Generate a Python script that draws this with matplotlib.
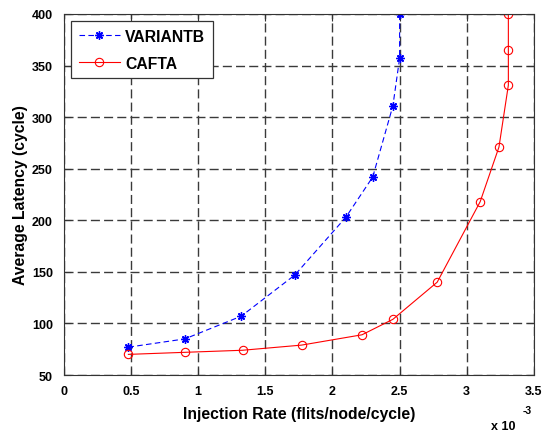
import matplotlib.pyplot as plt
import numpy as np

plt.rcParams['font.family'] = ['Liberation Sans', 'DejaVu Sans']
plt.rcParams['font.weight'] = 'bold'

# injection rate in units of 1e-3 flits/node/cycle
variantb_x = [0.48, 0.90, 1.32, 1.72, 2.10, 2.30, 2.45, 2.50, 2.50]
variantb_y = [77, 85, 107, 147, 203, 242, 311, 357, 400]

cafta_x = [0.48, 0.90, 1.33, 1.77, 2.22, 2.45, 2.78, 3.10, 3.24, 3.31, 3.31, 3.31]
cafta_y = [70, 72, 74, 79, 89, 104, 140, 218, 271, 331, 365, 400]

fig = plt.figure(figsize=(5.42, 4.35), dpi=100)
ax = fig.add_axes([0.118, 0.1356, 0.867, 0.830])

ax.plot(variantb_x, variantb_y, '--', color='blue', marker=(8, 2, 0), markersize=6,
        markeredgewidth=1.0, linewidth=0.8, dashes=(5, 3), label='VARIANTB')
ax.plot(cafta_x, cafta_y, '-', color='red', marker='o', markersize=6,
        markerfacecolor='none', markeredgewidth=0.8, linewidth=0.8, label='CAFTA')

ax.set_xlim(0, 3.5)
ax.set_ylim(50, 400)
ax.set_xticks(np.arange(0, 3.51, 0.5))
ax.set_xticklabels(['0', '0.5', '1', '1.5', '2', '2.5', '3', '3.5'])
ax.set_yticks(np.arange(50, 401, 50))
ax.tick_params(direction='in', top=True, right=True, labelsize=9, length=5,
               color='#333333')
ax.tick_params(axis='y', pad=8)
ax.tick_params(axis='x', pad=7)
for s in ax.spines.values():
    s.set_color('#333333')
ax.grid(True, linestyle=(0, (6.5, 3)), color='#3a3a3a', linewidth=1.0)

ax.set_xlabel('Injection Rate (flits/node/cycle)', fontsize=11.3, fontweight='bold',
              labelpad=7)
ax.set_ylabel('Average Latency (cycle)', fontsize=11.3, fontweight='bold', labelpad=3)

fig.text(0.905, 0.012, 'x 10', fontsize=9, fontweight='bold')
fig.text(0.965, 0.048, '-3', fontsize=7.5, fontweight='bold')

leg = ax.legend(loc='upper left', fontsize=11.3, fancybox=False, framealpha=1,
                edgecolor='#333333', borderaxespad=0.45, handlelength=2.6,
                handletextpad=0.35, labelspacing=0.75, borderpad=0.5)
leg.get_frame().set_linewidth(0.9)

plt.savefig('out.png')
